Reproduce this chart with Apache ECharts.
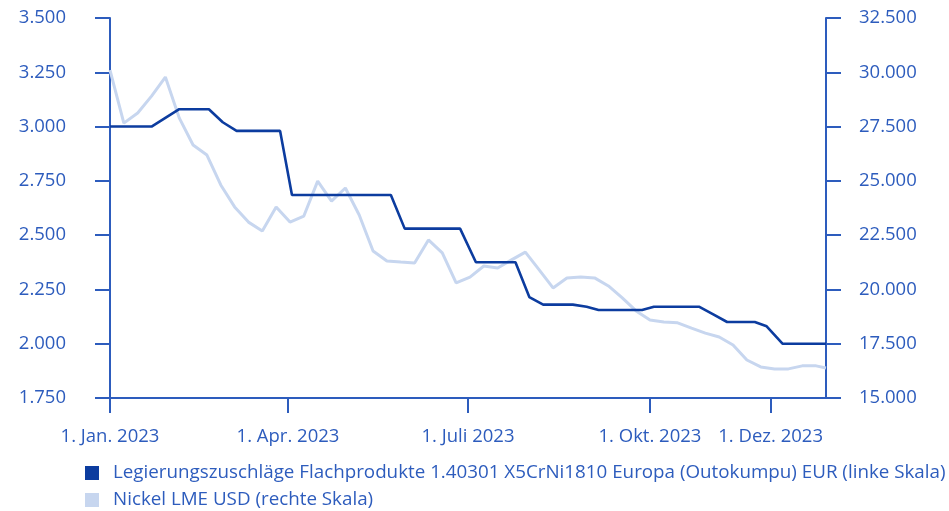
<!DOCTYPE html>
<html>
<head>
<meta charset="utf-8">
<script src="https://cdn.jsdelivr.net/npm/echarts@6/dist/echarts.min.js"></script>
<style>
  html, body { margin: 0; padding: 0; background: #fff; }
  #main { width: 949px; height: 511px; }
</style>
</head>
<body>
<div id="main"></div>
<script>
// Legierungszuschlag (linke Skala), Stützpunkte
var alloyDates = ['2023-01-01','2023-01-22','2023-01-29','2023-02-05','2023-02-20','2023-02-27','2023-03-06','2023-03-28',
  '2023-04-03','2023-05-23','2023-05-30','2023-06-27','2023-07-05','2023-07-25','2023-08-01','2023-08-08',
  '2023-08-23','2023-08-30','2023-09-05','2023-09-27','2023-10-03','2023-10-26','2023-11-02','2023-11-09',
  '2023-11-23','2023-11-29','2023-12-07','2023-12-29']
var alloyValues = [3.00,3.00,3.04,3.08,3.08,3.02,2.98,2.98,
  2.685,2.685,2.53,2.53,2.375,2.375,2.215,2.18,
  2.18,2.17,2.155,2.155,2.17,2.17,2.135,2.10,
  2.10,2.08,2.00,2.00]

// Nickel LME USD (rechte Skala), wöchentlich
var nickelDates = ['2023-01-01','2023-01-08','2023-01-15','2023-01-22','2023-01-29','2023-02-05','2023-02-12','2023-02-19',
  '2023-02-26','2023-03-05','2023-03-12','2023-03-19','2023-03-26','2023-04-02','2023-04-09','2023-04-16',
  '2023-04-23','2023-04-30','2023-05-07','2023-05-14','2023-05-21','2023-05-28','2023-06-04','2023-06-11',
  '2023-06-18','2023-06-25','2023-07-02','2023-07-09','2023-07-16','2023-07-23','2023-07-30','2023-08-06',
  '2023-08-13','2023-08-20','2023-08-27','2023-09-03','2023-09-10','2023-09-17','2023-09-24','2023-10-01',
  '2023-10-08','2023-10-15','2023-10-22','2023-10-29','2023-11-05','2023-11-12','2023-11-19','2023-11-26',
  '2023-12-03','2023-12-10','2023-12-17','2023-12-24','2023-12-29']
var nickelValues = [30100,27660,28125,28900,29780,27900,26650,26190,
  24810,23800,23100,22690,23800,23100,23380,24990,
  24070,24670,23430,21770,21310,21260,21220,22280,
  21680,20300,20570,21080,20990,21360,21720,20900,
  20070,20530,20570,20530,20160,19610,19010,18590,
  18500,18460,18220,17990,17810,17440,16750,16430,
  16340,16340,16480,16480,16380]

var xTickDates = ['2023-01-01','2023-04-01','2023-07-01','2023-10-01','2023-12-01']
var xTickLabels = ['1. Jan. 2023','1. Apr. 2023','1. Juli 2023','1. Okt. 2023','1. Dez. 2023']

var seriesNames = ['Legierungszuschläge Flachprodukte 1.40301 X5CrNi1810 Europa (Outokumpu) EUR (linke Skala)',
  'Nickel LME USD (rechte Skala)']

var axisBlue = '#2d5cbd'
var darkBlue = '#0c3c9f'
var lightBlue = '#c7d6ef'
var font = '"Open Sans", Lato, sans-serif'
var fs = 18.5

function ts(d) { return new Date(d + 'T00:00:00Z').getTime() }
function fmtDe(v, dec) {
  var s = v.toFixed(dec)
  var parts = s.split('.')
  var intPart = parts[0].replace(/\B(?=(\d{3})+(?!\d))/g, '.')
  return dec ? intPart + '.' + parts[1] : intPart
}

var tickTs = xTickDates.map(ts)
var alloyData = alloyDates.map(function (d, i) { return [ts(d), alloyValues[i]] })
var nickelData = nickelDates.map(function (d, i) { return [ts(d), nickelValues[i]] })

function legendItem(name, color, top) {
  return {
    left: 85,
    top: top,
    itemWidth: 14,
    itemHeight: 14,
    icon: 'rect',
    padding: 0,
    textStyle: { color: axisBlue, fontSize: 18.8, fontFamily: font, lineHeight: 20, padding: [0, 0, 0, 9] },
    itemGap: 0,
    data: [{ name: name, itemStyle: { color: color } }]
  }
}

var chart = echarts.init(document.getElementById('main'))
var option = {
  animation: false,
  grid: { left: 110, right: 123, top: 18, bottom: 113 },
  legend: [
    legendItem(seriesNames[0], darkBlue, 463),
    legendItem(seriesNames[1], lightBlue, 490)
  ],
  xAxis: {
    type: 'value',
    min: ts('2023-01-01'),
    max: ts('2023-12-29'),
    axisLine: { lineStyle: { color: axisBlue, width: 2 } },
    axisTick: { show: true, length: 15, lineStyle: { color: axisBlue, width: 2 }, customValues: tickTs },
    axisLabel: {
      customValues: tickTs,
      margin: 29,
      color: axisBlue,
      fontSize: fs,
      fontFamily: font,
      formatter: function (v) {
        var i = tickTs.indexOf(v)
        return i >= 0 ? xTickLabels[i] : ''
      }
    },
    splitLine: { show: false }
  },
  yAxis: [
    {
      type: 'value',
      min: 1.75, max: 3.5, interval: 0.25,
      position: 'left',
      axisLine: { show: true, lineStyle: { color: axisBlue, width: 2 } },
      axisTick: { show: true, length: 15, lineStyle: { color: axisBlue, width: 2 } },
      axisLabel: { margin: 44, color: axisBlue, fontSize: fs, fontFamily: font, formatter: function (v) { return fmtDe(v, 3) } },
      splitLine: { show: false }
    },
    {
      type: 'value',
      min: 15000, max: 32500, interval: 2500,
      position: 'right',
      axisLine: { show: true, lineStyle: { color: axisBlue, width: 2 } },
      axisTick: { show: true, length: 15, lineStyle: { color: axisBlue, width: 2 } },
      axisLabel: { margin: 33, color: axisBlue, fontSize: fs, fontFamily: font, formatter: function (v) { return fmtDe(v / 1000, 3) } },
      splitLine: { show: false }
    }
  ],
  series: [
    {
      name: seriesNames[1],
      type: 'line',
      yAxisIndex: 1,
      data: nickelData,
      showSymbol: false,
      itemStyle: { color: lightBlue },
      lineStyle: { color: lightBlue, width: 3 },
      z: 1
    },
    {
      name: seriesNames[0],
      type: 'line',
      yAxisIndex: 0,
      data: alloyData,
      showSymbol: false,
      itemStyle: { color: darkBlue },
      lineStyle: { color: darkBlue, width: 2.6 },
      z: 2
    }
  ]
}
chart.setOption(option)
</script>
</body>
</html>
